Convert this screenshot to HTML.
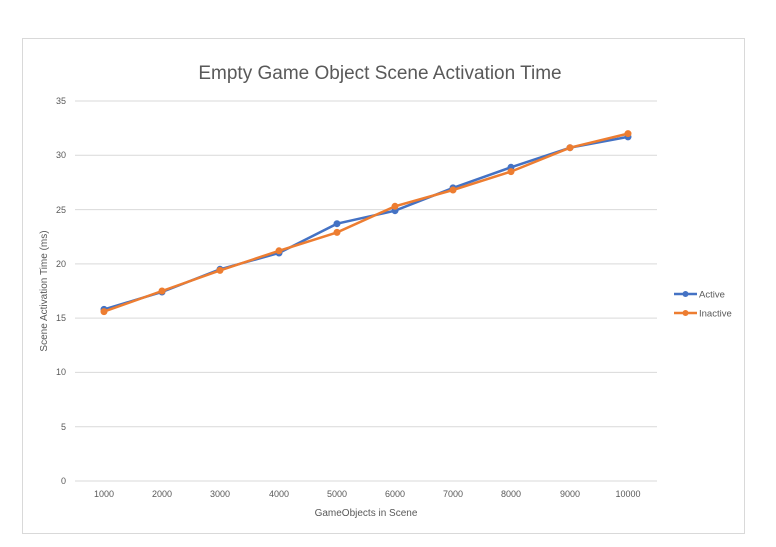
<!DOCTYPE html><html><head><style>body{margin:0;background:#fff}svg{display:block;font-family:"Liberation Sans",sans-serif}</style></head><body>
<svg width="776" height="547" viewBox="0 0 776 547">
<rect x="22.5" y="38.5" width="722" height="495" fill="#fff" stroke="#d9d9d9"/>
<text x="380" y="79" font-size="19" fill="#595959" text-anchor="middle">Empty Game Object Scene Activation Time</text>
<g stroke="#d9d9d9" stroke-width="1">
<line x1="75" x2="657" y1="101" y2="101"/><line x1="75" x2="657" y1="155.3" y2="155.3"/><line x1="75" x2="657" y1="209.6" y2="209.6"/><line x1="75" x2="657" y1="263.9" y2="263.9"/><line x1="75" x2="657" y1="318.1" y2="318.1"/><line x1="75" x2="657" y1="372.4" y2="372.4"/><line x1="75" x2="657" y1="426.7" y2="426.7"/><line x1="75" x2="657" y1="481" y2="481"/>
</g>
<g font-size="9" fill="#595959" text-anchor="end">
<text x="66" y="104">35</text><text x="66" y="158">30</text><text x="66" y="213">25</text><text x="66" y="267">20</text><text x="66" y="321">15</text><text x="66" y="375">10</text><text x="66" y="430">5</text><text x="66" y="484">0</text>
</g>
<g font-size="9" fill="#595959" text-anchor="middle">
<text x="104" y="497">1000</text><text x="162" y="497">2000</text><text x="220" y="497">3000</text><text x="279" y="497">4000</text><text x="337" y="497">5000</text><text x="395" y="497">6000</text><text x="453" y="497">7000</text><text x="511" y="497">8000</text><text x="570" y="497">9000</text><text x="628" y="497">10000</text>
</g>
<text x="366" y="516" font-size="10" fill="#595959" text-anchor="middle">GameObjects in Scene</text>
<text transform="translate(47,291) rotate(-90)" font-size="10" fill="#595959" text-anchor="middle">Scene Activation Time (ms)</text>
<g fill="#4472c4" stroke="#4472c4">
<polyline fill="none" stroke-width="2.5" points="104,309.4 162,292 220,269.3 279,253 337,223.7 395,210.7 453,187.9 511,167.3 570,147.7 628,136.9"/>
<circle cx="104" cy="309.4" r="3"/><circle cx="162" cy="292" r="3"/><circle cx="220" cy="269.3" r="3"/><circle cx="279" cy="253" r="3"/><circle cx="337" cy="223.7" r="3"/><circle cx="395" cy="210.7" r="3"/><circle cx="453" cy="187.9" r="3"/><circle cx="511" cy="167.3" r="3"/><circle cx="570" cy="147.7" r="3"/><circle cx="628" cy="136.9" r="3"/>
</g>
<g fill="#ed7d31" stroke="#ed7d31">
<polyline fill="none" stroke-width="2.5" points="104,311.6 162,291 220,270.4 279,250.8 337,232.4 395,206.3 453,190 511,171.6 570,147.7 628,133.6"/>
<circle cx="104" cy="311.6" r="3"/><circle cx="162" cy="291" r="3"/><circle cx="220" cy="270.4" r="3"/><circle cx="279" cy="250.8" r="3"/><circle cx="337" cy="232.4" r="3"/><circle cx="395" cy="206.3" r="3"/><circle cx="453" cy="190" r="3"/><circle cx="511" cy="171.6" r="3"/><circle cx="570" cy="147.7" r="3"/><circle cx="628" cy="133.6" r="3"/>
</g>
<line x1="674" x2="697" y1="294" y2="294" stroke="#4472c4" stroke-width="2.5"/><circle cx="685.5" cy="294" r="3" fill="#4472c4"/>
<text x="699" y="297.5" font-size="9.5" fill="#595959">Active</text>
<line x1="674" x2="697" y1="313" y2="313" stroke="#ed7d31" stroke-width="2.5"/><circle cx="685.5" cy="313" r="3" fill="#ed7d31"/>
<text x="699" y="316.5" font-size="9.5" fill="#595959">Inactive</text>
</svg></body></html>
